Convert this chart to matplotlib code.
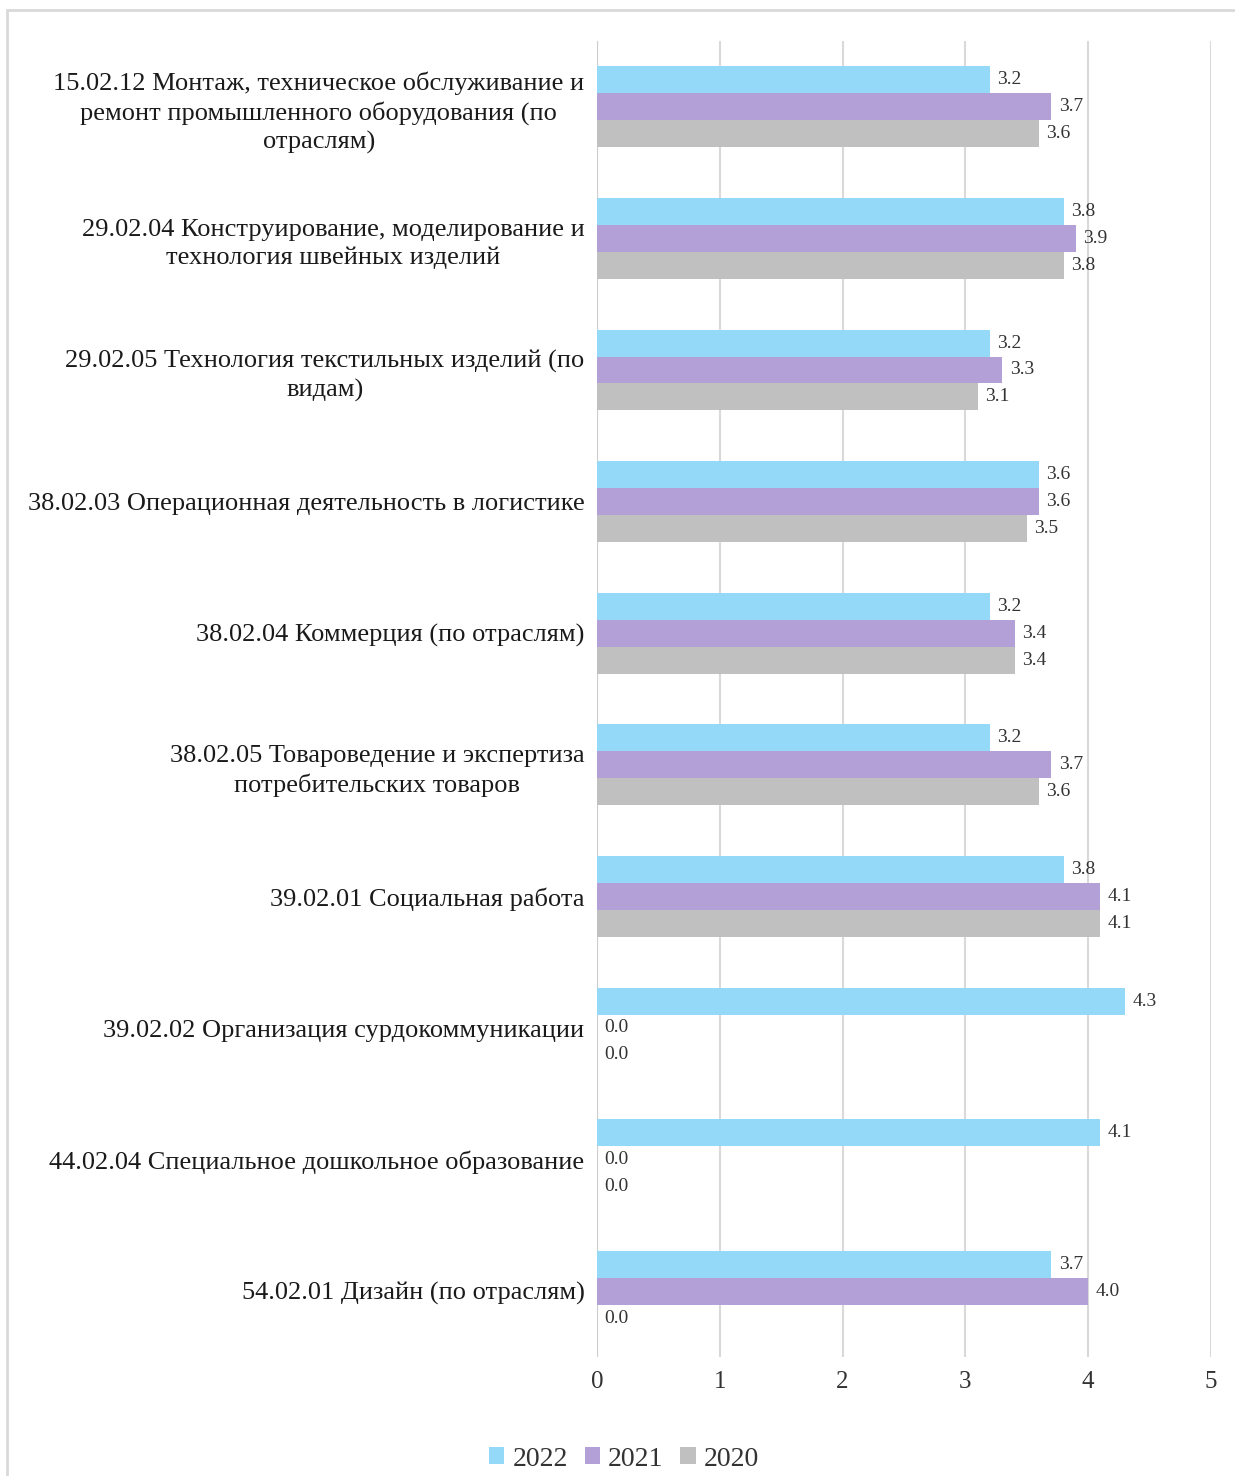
import matplotlib
matplotlib.use("Agg")
import matplotlib.pyplot as plt
import numpy as np
from matplotlib.patches import Rectangle

categories = [
    "15.02.12 Монтаж, техническое обслуживание и\nремонт промышленного оборудования (по\nотраслям)",
    "29.02.04 Конструирование, моделирование и\nтехнология швейных изделий",
    "29.02.05 Технология текстильных изделий (по\nвидам)",
    "38.02.03 Операционная деятельность в логистике",
    "38.02.04 Коммерция (по отраслям)",
    "38.02.05 Товароведение и экспертиза\nпотребительских товаров",
    "39.02.01 Социальная работа",
    "39.02.02 Организация сурдокоммуникации",
    "44.02.04 Специальное дошкольное образование",
    "54.02.01 Дизайн (по отраслям)",
]
series_names = ["2022", "2021", "2020"]
values_2022 = [3.2, 3.8, 3.2, 3.6, 3.2, 3.2, 3.8, 4.3, 4.1, 3.7]
values_2021 = [3.7, 3.9, 3.3, 3.6, 3.4, 3.7, 4.1, 0.0, 0.0, 4.0]
values_2020 = [3.6, 3.8, 3.1, 3.5, 3.4, 3.6, 4.1, 0.0, 0.0, 0.0]
xticks = [0, 1, 2, 3, 4, 5]

colors = ["#95d9f8", "#b3a0d6", "#c0c0c0"]
serif = ["Liberation Serif", "DejaVu Serif"]

W, H = 1235, 1476
fig = plt.figure(figsize=(W / 100, H / 100), dpi=100)
ax = fig.add_axes([597 / W, 1 - 1357 / H, (1211 - 597) / W, (1357 - 41) / H])

# figure border
fig.patches.append(Rectangle((7 / W, -0.01), 1.05, 1 - 10 / H + 0.01, transform=fig.transFigure,
                             fill=False, edgecolor="#d9d9d9", linewidth=2, zorder=0))

n = len(categories)
y = np.arange(n)
bh = 0.205
all_vals = [values_2022, values_2021, values_2020]
for i, (vals, name, c) in enumerate(zip(all_vals, series_names, colors)):
    pos = y + (i - 1) * bh
    ax.barh(pos, vals, height=bh, color=c, label=name, zorder=3)
    for p, v in zip(pos, vals):
        ax.text(v + 0.06, p, f"{v:.1f}", va="center", ha="left", fontsize=14,
                family=serif, color="#333333", zorder=4)

ax.set_ylim(n - 0.5, -0.5)
ax.set_xlim(0, 5)
ax.set_xticks(xticks)
ax.set_xticklabels([str(t) for t in xticks], family=serif, fontsize=18, color="#333333")
ax.set_yticks(y)
ax.set_yticklabels(categories, family=serif, fontsize=19, color="#1a1a1a",
                   ha="right", multialignment="center", linespacing=1.35)
ax.tick_params(axis="y", length=0, pad=9)
ax.tick_params(axis="x", length=0, pad=10)
for s in ax.spines.values():
    s.set_visible(False)
ax.grid(axis="x", color="#d9d9d9", linewidth=1.5, zorder=0)
ax.axvline(0, color="#cccccc", linewidth=1.5, zorder=2)

handles, labels = ax.get_legend_handles_labels()
fig.legend(handles, labels, loc="center", bbox_to_anchor=(624 / W, 1 - 1459 / H), ncol=3,
           frameon=False, prop={"family": serif, "size": 20}, handlelength=0.55,
           handleheight=0.55, handletextpad=0.3, columnspacing=0.6, labelcolor="#333333")

fig.savefig("out.png", dpi=100, facecolor="white")
